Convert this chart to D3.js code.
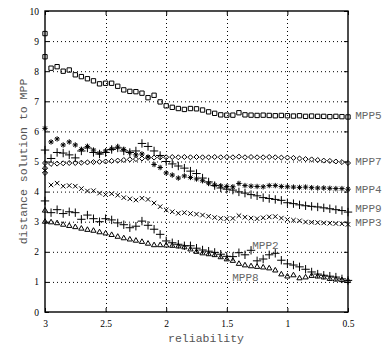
<!DOCTYPE html>
<html>
<head>
<meta charset="utf-8">
<script src="https://cdn.jsdelivr.net/npm/d3@7"></script>
<style>
    body { margin: 0; background: #fff; }
    svg { display: block; }
</style>
</head>
<body>
<svg id="chart" width="385" height="347"></svg>
<script>
// reliability index, read right-to-left on the plot
const reliability = [3.00, 2.95, 2.90, 2.85, 2.80, 2.75, 2.70, 2.65, 2.60, 2.55, 2.50, 2.45, 2.40, 2.35, 2.30, 2.25, 2.20, 2.15, 2.10, 2.05, 2.00, 1.95, 1.90, 1.85, 1.80, 1.75, 1.70, 1.65, 1.60, 1.55, 1.50, 1.45, 1.40, 1.35, 1.30, 1.25, 1.20, 1.15, 1.10, 1.05, 1.00, 0.95, 0.90, 0.85, 0.80, 0.75, 0.70, 0.65, 0.60, 0.55, 0.50]

const mpp5 = [9.25, 8.10, 8.15, 8.00, 8.04, 7.88, 7.82, 7.75, 7.68, 7.58, 7.60, 7.60, 7.50, 7.38, 7.33, 7.32, 7.27, 7.12, 7.20, 6.98, 6.85, 6.80, 6.76, 6.73, 6.76, 6.75, 6.71, 6.65, 6.60, 6.55, 6.54, 6.54, 6.62, 6.55, 6.54, 6.53, 6.54, 6.53, 6.52, 6.53, 6.52, 6.51, 6.52, 6.50, 6.51, 6.50, 6.50, 6.49, 6.50, 6.49, 6.48]
const mpp7 = [4.95, 4.92, 4.93, 4.94, 4.95, 4.95, 4.96, 4.97, 4.98, 4.99, 5.00, 5.02, 5.03, 5.05, 5.07, 5.08, 5.10, 5.12, 5.13, 5.14, 5.14, 5.15, 5.14, 5.15, 5.14, 5.15, 5.14, 5.14, 5.15, 5.14, 5.15, 5.14, 5.16, 5.14, 5.15, 5.14, 5.14, 5.15, 5.14, 5.13, 5.13, 5.12, 5.10, 5.08, 5.07, 5.05, 5.03, 5.02, 5.00, 4.98, 4.95]
const mpp4 = [6.10, 5.65, 5.75, 5.55, 5.65, 5.55, 5.40, 5.50, 5.38, 5.28, 5.35, 5.42, 5.48, 5.40, 5.30, 5.22, 5.25, 5.15, 4.90, 4.80, 4.62, 4.55, 4.45, 4.52, 4.47, 4.42, 4.36, 4.28, 4.22, 4.19, 4.17, 4.16, 4.27, 4.20, 4.18, 4.17, 4.16, 4.20, 4.20, 4.17, 4.16, 4.15, 4.14, 4.15, 4.13, 4.12, 4.12, 4.11, 4.10, 4.10, 4.08]
const mpp9 = [5.38, 5.10, 5.30, 5.28, 5.22, 5.12, 5.35, 5.45, 5.30, 5.25, 5.30, 5.40, 5.45, 5.35, 5.30, 5.35, 5.60, 5.50, 5.35, 5.20, 5.00, 4.92, 4.85, 4.78, 4.68, 4.60, 4.45, 4.32, 4.20, 4.12, 4.08, 4.05, 3.99, 3.95, 3.90, 3.86, 3.80, 3.77, 3.74, 3.71, 3.63, 3.60, 3.56, 3.53, 3.51, 3.49, 3.46, 3.43, 3.40, 3.37, 3.32]
const mpp3 = [4.70, 4.22, 4.28, 4.18, 4.20, 4.18, 4.10, 4.02, 4.03, 3.95, 3.90, 3.93, 3.88, 3.80, 3.76, 3.72, 3.78, 3.74, 3.62, 3.50, 3.39, 3.33, 3.28, 3.30, 3.27, 3.25, 3.22, 3.18, 3.14, 3.11, 3.10, 3.11, 3.20, 3.15, 3.12, 3.10, 3.13, 3.16, 3.17, 3.12, 3.07, 3.05, 3.03, 2.99, 2.98, 2.97, 2.96, 2.95, 2.94, 2.93, 2.91]
const mpp2 = [3.69, 3.30, 3.40, 3.27, 3.33, 3.30, 3.08, 3.22, 3.10, 3.00, 3.10, 3.06, 2.96, 2.90, 2.80, 2.85, 3.02, 2.88, 2.75, 2.58, 2.36, 2.30, 2.25, 2.20, 2.20, 2.12, 2.06, 2.02, 1.98, 1.92, 1.85, 1.84, 1.97, 1.90, 2.05, 1.70, 1.76, 1.90, 1.95, 1.72, 1.60, 1.56, 1.50, 1.42, 1.33, 1.26, 1.22, 1.19, 1.16, 1.10, 1.05]
const mpp8 = [3.00, 2.98, 2.95, 2.90, 2.86, 2.82, 2.77, 2.73, 2.70, 2.65, 2.61, 2.56, 2.50, 2.45, 2.41, 2.37, 2.33, 2.27, 2.22, 2.22, 2.21, 2.20, 2.18, 2.15, 2.08, 2.00, 1.95, 1.92, 1.89, 1.82, 1.75, 1.70, 1.60, 1.55, 1.52, 1.50, 1.48, 1.45, 1.38, 1.25, 1.18, 1.22, 1.12, 1.15, 1.20, 1.18, 1.15, 1.10, 1.08, 1.06, 1.03]

// extra points stacked at reliability = 3
const mpp5Start = [8.48]
const mpp7Start = [4.78, 4.62]
const mpp8Start = [3.37]

const xTicks = [3, 2.5, 2, 1.5, 1, 0.5]
const yTicks = [0, 1, 2, 3, 4, 5, 6, 7, 8, 9, 10]

// curve labels, placed in data units
const curveLabels = [
    { text: "MPP5", rel: 0.44, dist: 6.51 },
    { text: "MPP7", rel: 0.44, dist: 4.98 },
    { text: "MPP4", rel: 0.44, dist: 4.05 },
    { text: "MPP9", rel: 0.44, dist: 3.42 },
    { text: "MPP3", rel: 0.44, dist: 2.97 },
    { text: "MPP2", rel: 1.29, dist: 2.19 },
    { text: "MPP8", rel: 1.455, dist: 1.13 },
]

// gnuplot style "*" (plus and cross on top of each other)
const symbolStar = {
    draw(context, size) {
        const r = Math.sqrt(size) * 0.55
        const d = r * 0.72
        context.moveTo(-r, 0)
        context.lineTo(r, 0)
        context.moveTo(0, -r)
        context.lineTo(0, r)
        context.moveTo(-d, -d)
        context.lineTo(d, d)
        context.moveTo(-d, d)
        context.lineTo(d, -d)
    },
}

const series = [
    { values: mpp5, extra: mpp5Start, type: d3.symbolSquare2 || d3.symbolSquare, size: 24 },
    { values: mpp7, extra: mpp7Start, type: d3.symbolDiamond2 || d3.symbolDiamond, size: 16 },
    { values: mpp4, extra: [], type: symbolStar, size: 24 },
    { values: mpp9, extra: [], type: d3.symbolPlus || d3.symbolCross, size: 25 },
    { values: mpp3, extra: [], type: d3.symbolTimes || d3.symbolCross, size: 15 },
    { values: mpp2, extra: [], type: d3.symbolPlus || d3.symbolCross, size: 25 },
    { values: mpp8, extra: mpp8Start, type: d3.symbolTriangle2 || d3.symbolTriangle, size: 20 },
]

const svg = d3.select("#chart")

const x = d3.scaleLinear().domain([3, 0.5]).range([45, 348])
const y = d3.scaleLinear().domain([0, 10]).range([312, 11])

const serif = "'Liberation Serif', 'Times New Roman', serif"
const mono = "'Liberation Mono', 'DejaVu Sans Mono', monospace"

// dotted grid
const grid = svg.append("g").attr("stroke", "#000").attr("stroke-width", 1).attr("stroke-dasharray", "1,3")
grid.selectAll("line.h")
    .data(yTicks.slice(1, -1))
    .join("line")
    .attr("class", "h")
    .attr("x1", x(3))
    .attr("x2", x(0.5))
    .attr("y1", (d) => y(d) + 0.5)
    .attr("y2", (d) => y(d) + 0.5)
grid.selectAll("line.v")
    .data(xTicks.slice(1, -1))
    .join("line")
    .attr("class", "v")
    .attr("x1", (d) => Math.round(x(d)) + 0.5)
    .attr("x2", (d) => Math.round(x(d)) + 0.5)
    .attr("y1", y(10))
    .attr("y2", y(0))

// axes with inward ticks, mirrored on top/right
const axis = svg.append("g")

const styleAxis = (g) => {
    g.select(".domain").remove()
    g.selectAll(".tick line").attr("stroke", "#000").attr("stroke-width", 1)
    g.selectAll("text")
        .attr("fill", "#000")
        .style("font-family", serif)
        .style("font-size", "9.5px")
}

axis.append("g")
    .attr("transform", `translate(${x(3)},0)`)
    .call(d3.axisLeft(y).tickValues(yTicks).tickSize(-4).tickPadding(6).tickFormat((d) => d))
    .call(styleAxis)

axis.append("g")
    .attr("transform", `translate(0,${y(0)})`)
    .call(d3.axisBottom(x).tickValues(xTicks).tickSize(-4).tickPadding(8).tickFormat((d) => d))
    .call(styleAxis)

axis.append("g")
    .attr("transform", `translate(${x(0.5)},0)`)
    .call(d3.axisRight(y).tickValues(yTicks).tickSize(-4).tickFormat(""))
    .call(styleAxis)

axis.append("g")
    .attr("transform", `translate(0,${y(10)})`)
    .call(d3.axisTop(x).tickValues(xTicks).tickSize(-4).tickFormat(""))
    .call(styleAxis)

svg.append("rect")
    .attr("x", x(3))
    .attr("y", y(10))
    .attr("width", x(0.5) - x(3))
    .attr("height", y(0) - y(10))
    .attr("fill", "none")
    .attr("stroke", "#000")
    .attr("stroke-width", 1.4)

// markers
const points = svg.append("g").attr("fill", "none").attr("stroke", "#000").attr("stroke-width", 1)

series.forEach((s) => {
    const pts = s.values
        .map((v, i) => ({ rel: reliability[i], dist: v }))
        .concat(s.extra.map((v) => ({ rel: reliability[0], dist: v })))
    points.append("g")
        .selectAll("path")
        .data(pts)
        .join("path")
        .attr("transform", (d) => `translate(${x(d.rel)},${y(d.dist)})`)
        .attr("d", d3.symbol().type(s.type).size(s.size))
})

// curve labels
svg.append("g")
    .selectAll("text")
    .data(curveLabels)
    .join("text")
    .attr("x", (d) => x(d.rel))
    .attr("y", (d) => y(d.dist))
    .attr("dominant-baseline", "central")
    .attr("fill", "#666")
    .style("font-family", mono)
    .style("font-size", "11px")
    .text((d) => d.text)

// axis titles
svg.append("text")
    .attr("x", 206)
    .attr("y", 342)
    .attr("text-anchor", "middle")
    .attr("fill", "#555")
    .style("font-family", mono)
    .style("font-size", "11.5px")
    .text("reliability")

svg.append("text")
    .attr("transform", `translate(27,${(y(0) + y(10)) / 2}) rotate(-90)`)
    .attr("text-anchor", "middle")
    .attr("fill", "#555")
    .style("font-family", mono)
    .style("font-size", "11.5px")
    .text("distance solution to MPP")
</script>
</body>
</html>
